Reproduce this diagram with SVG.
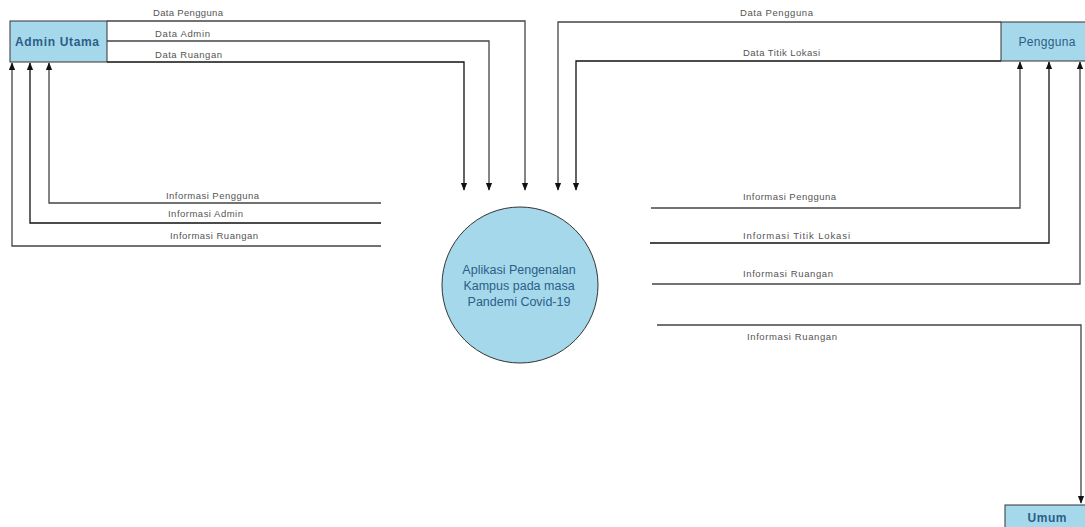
<svg xmlns="http://www.w3.org/2000/svg" width="1085" height="527" viewBox="0 0 1085 527">
<style>
.box{fill:#a6d8ec;stroke:#333;stroke-width:1}
.ln{fill:none;stroke:#444;stroke-width:1.3}
.dk{stroke:#111}
.lbl{font-family:"Liberation Sans",Arial,sans-serif;font-size:9.5px;fill:#555}
.nt{font-family:"Liberation Sans",Arial,sans-serif;fill:#2a5f87;text-anchor:middle}
</style>
<defs>
<marker id="ah" viewBox="0 0 10 10" refX="9" refY="5" markerWidth="6" markerHeight="6" orient="auto">
<path d="M0,1 L10,5 L0,9 z" fill="#111"/>
</marker>
</defs>
<rect width="1085" height="527" fill="#fff"/>
<g id="connectors">
<path class="ln" d="M107,21 H525 V190" marker-end="url(#ah)"/>
<path class="ln" d="M107,41 H489 V190" marker-end="url(#ah)"/>
<path class="ln dk" d="M107,62 H464 V190" marker-end="url(#ah)"/>
<path class="ln" d="M1001,22 H558 V190" marker-end="url(#ah)"/>
<path class="ln dk" d="M1001,61 H576 V190" marker-end="url(#ah)"/>
<path class="ln" d="M381,203 H49 V63" marker-end="url(#ah)"/>
<path class="ln dk" d="M381,223 H30 V63" marker-end="url(#ah)"/>
<path class="ln" d="M381,246 H12 V63" marker-end="url(#ah)"/>
<path class="ln" d="M651,208 H1020 V62" marker-end="url(#ah)"/>
<path class="ln dk" d="M650,243 H1049 V62" marker-end="url(#ah)"/>
<path class="ln" d="M652,284 H1080 V62" marker-end="url(#ah)"/>
<path class="ln" d="M657,325 H1081 V503" marker-end="url(#ah)"/>
<text class="lbl" x="153" y="16" textLength="70">Data Pengguna</text>
<text class="lbl" x="155" y="37" textLength="55">Data Admin</text>
<text class="lbl" x="155" y="58" textLength="67">Data Ruangan</text>
<text class="lbl" x="740" y="16" textLength="73">Data Pengguna</text>
<text class="lbl" x="743" y="56" textLength="77">Data Titik Lokasi</text>
<text class="lbl" x="166" y="199" textLength="93">Informasi Pengguna</text>
<text class="lbl" x="168" y="217" textLength="75">Informasi Admin</text>
<text class="lbl" x="170" y="239" textLength="88">Informasi Ruangan</text>
<text class="lbl" x="743" y="200" textLength="93">Informasi Pengguna</text>
<text class="lbl" x="743" y="239" textLength="107">Informasi Titik Lokasi</text>
<text class="lbl" x="743" y="277" textLength="90">Informasi Ruangan</text>
<text class="lbl" x="747" y="340" textLength="90">Informasi Ruangan</text>
</g>
<g id="admin">
<rect class="box" x="10" y="21" width="97" height="41"/>
<text class="nt" x="57" y="46" font-size="12" font-weight="bold" textLength="84">Admin Utama</text>
</g>
<g id="pengguna">
<rect class="box" x="1001" y="22" width="90" height="39"/>
<text class="nt" x="1047" y="46" font-size="12" textLength="57">Pengguna</text>
</g>
<g id="umum">
<rect class="box" x="1005" y="505" width="86" height="30"/>
<text class="nt" x="1047" y="522" font-size="12" font-weight="bold" textLength="39">Umum</text>
</g>
<g id="process">
<circle cx="520" cy="285" r="78" fill="#a6d8ec" stroke="#333" stroke-width="1"/>
<text class="nt" font-size="12.5" fill="#2a5f87"><tspan x="519" y="274">Aplikasi Pengenalan</tspan><tspan x="519" y="290">Kampus pada masa</tspan><tspan x="519" y="306">Pandemi Covid-19</tspan></text>
</g>
</svg>
